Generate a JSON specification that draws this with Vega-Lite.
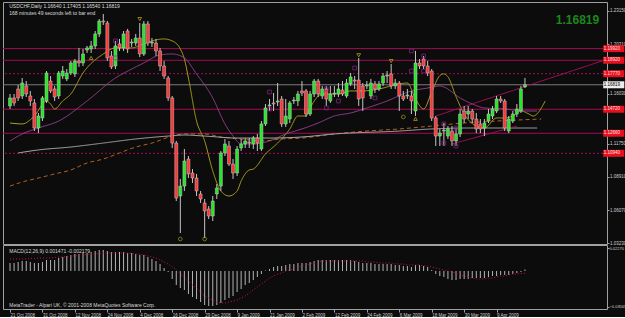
{
"$schema": "https://vega.github.io/schema/vega-lite/v6.json",
"background": "#0c0c0c",
"padding": {"left": 2, "top": 1, "right": 0, "bottom": 0},
"bounds": "flush",
"spacing": 1,
"config": {
  "font": "Liberation Sans, sans-serif",
  "view": {"stroke": "#a0a0a0", "strokeWidth": 1},
  "axis": {"grid": false, "domain": false, "labelColor": "#d0d0d0", "tickColor": "#a0a0a0", "labelFontSize": 4.5, "labelFont": "Liberation Sans", "tickSize": 2, "labelPadding": 0.5, "labelOverlap": false, "titleColor": "#d0d0d0"}
},
"datasets": {
  "c": [
{"i":0,"o":1.1500,"h":1.1603,"l":1.1474,"c":1.1569},
{"i":1,"o":1.1569,"h":1.1603,"l":1.1500,"c":1.1526},
{"i":2,"o":1.1646,"h":1.1680,"l":1.1543,"c":1.1569},
{"i":3,"o":1.1586,"h":1.1740,"l":1.1560,"c":1.1697},
{"i":4,"o":1.1672,"h":1.1714,"l":1.1577,"c":1.1603},
{"i":5,"o":1.1586,"h":1.1629,"l":1.1500,"c":1.1543},
{"i":6,"o":1.1526,"h":1.1560,"l":1.1285,"c":1.1311},
{"i":7,"o":1.1311,"h":1.1440,"l":1.1268,"c":1.1414},
{"i":8,"o":1.1397,"h":1.1586,"l":1.1371,"c":1.1569},
{"i":9,"o":1.1543,"h":1.1800,"l":1.1526,"c":1.1783},
{"i":10,"o":1.1714,"h":1.1757,"l":1.1611,"c":1.1629},
{"i":11,"o":1.1646,"h":1.1672,"l":1.1543,"c":1.1577},
{"i":12,"o":1.1586,"h":1.1800,"l":1.1560,"c":1.1783},
{"i":13,"o":1.1757,"h":1.1843,"l":1.1732,"c":1.1800},
{"i":14,"o":1.1732,"h":1.1817,"l":1.1714,"c":1.1783},
{"i":15,"o":1.1783,"h":1.1886,"l":1.1766,"c":1.1869},
{"i":16,"o":1.1775,"h":1.1903,"l":1.1749,"c":1.1886},
{"i":17,"o":1.1886,"h":1.1998,"l":1.1835,"c":1.1869},
{"i":18,"o":1.1869,"h":1.1989,"l":1.1843,"c":1.1946},
{"i":19,"o":1.1980,"h":1.2015,"l":1.1955,"c":1.1998},
{"i":20,"o":1.1989,"h":1.2058,"l":1.1955,"c":1.2015},
{"i":21,"o":1.2015,"h":1.2143,"l":1.1989,"c":1.2118},
{"i":22,"o":1.2118,"h":1.2246,"l":1.2092,"c":1.2229},
{"i":23,"o":1.2229,"h":1.2289,"l":1.2195,"c":1.2221},
{"i":24,"o":1.2212,"h":1.2229,"l":1.1886,"c":1.1912},
{"i":25,"o":1.1929,"h":1.1972,"l":1.1817,"c":1.1835},
{"i":26,"o":1.1843,"h":1.2058,"l":1.1817,"c":1.2015},
{"i":27,"o":1.2032,"h":1.2075,"l":1.1972,"c":1.1998},
{"i":28,"o":1.1998,"h":1.2143,"l":1.1972,"c":1.2118},
{"i":29,"o":1.2143,"h":1.2161,"l":1.1955,"c":1.1989},
{"i":30,"o":1.2040,"h":1.2075,"l":1.2006,"c":1.2049},
{"i":31,"o":1.2040,"h":1.2118,"l":1.2015,"c":1.2083},
{"i":32,"o":1.2083,"h":1.2212,"l":1.1920,"c":1.1946},
{"i":33,"o":1.1946,"h":1.2229,"l":1.1929,"c":1.2204},
{"i":34,"o":1.2204,"h":1.2229,"l":1.2015,"c":1.2040},
{"i":35,"o":1.2040,"h":1.2083,"l":1.2006,"c":1.2049},
{"i":36,"o":1.2040,"h":1.2075,"l":1.1929,"c":1.1972},
{"i":37,"o":1.1972,"h":1.1998,"l":1.1800,"c":1.1843},
{"i":38,"o":1.1843,"h":1.1886,"l":1.1732,"c":1.1757},
{"i":39,"o":1.1740,"h":1.1757,"l":1.1543,"c":1.1569},
{"i":40,"o":1.1569,"h":1.1586,"l":1.1140,"c":1.1182},
{"i":41,"o":1.1182,"h":1.1200,"l":1.0685,"c":1.0710},
{"i":42,"o":1.0728,"h":1.0874,"l":1.0410,"c":1.0813},
{"i":43,"o":1.0813,"h":1.1131,"l":1.0771,"c":1.1028},
{"i":44,"o":1.1045,"h":1.1071,"l":1.0882,"c":1.0917},
{"i":45,"o":1.0925,"h":1.0959,"l":1.0839,"c":1.0882},
{"i":46,"o":1.0882,"h":1.0917,"l":1.0728,"c":1.0771},
{"i":47,"o":1.0745,"h":1.0771,"l":1.0668,"c":1.0702},
{"i":48,"o":1.0668,"h":1.0702,"l":1.0367,"c":1.0599},
{"i":49,"o":1.0616,"h":1.0642,"l":1.0530,"c":1.0556},
{"i":50,"o":1.0556,"h":1.0728,"l":1.0513,"c":1.0685},
{"i":51,"o":1.0745,"h":1.0831,"l":1.0702,"c":1.0796},
{"i":52,"o":1.0813,"h":1.1114,"l":1.0771,"c":1.1097},
{"i":53,"o":1.1097,"h":1.1217,"l":1.1071,"c":1.1174},
{"i":54,"o":1.1157,"h":1.1200,"l":1.0985,"c":1.1002},
{"i":55,"o":1.1002,"h":1.1045,"l":1.0874,"c":1.0925},
{"i":56,"o":1.0925,"h":1.1157,"l":1.0899,"c":1.1131},
{"i":57,"o":1.1140,"h":1.1217,"l":1.1114,"c":1.1174},
{"i":58,"o":1.1174,"h":1.1225,"l":1.1140,"c":1.1200},
{"i":59,"o":1.1191,"h":1.1225,"l":1.1140,"c":1.1182},
{"i":60,"o":1.1174,"h":1.1242,"l":1.1131,"c":1.1225},
{"i":61,"o":1.1225,"h":1.1260,"l":1.1114,"c":1.1182},
{"i":62,"o":1.1131,"h":1.1371,"l":1.1114,"c":1.1346},
{"i":63,"o":1.1346,"h":1.1517,"l":1.1328,"c":1.1483},
{"i":64,"o":1.1500,"h":1.1560,"l":1.1457,"c":1.1509},
{"i":65,"o":1.1526,"h":1.1611,"l":1.1457,"c":1.1517},
{"i":66,"o":1.1534,"h":1.1697,"l":1.1500,"c":1.1543},
{"i":67,"o":1.1560,"h":1.1586,"l":1.1320,"c":1.1346},
{"i":68,"o":1.1346,"h":1.1560,"l":1.1320,"c":1.1414},
{"i":69,"o":1.1388,"h":1.1543,"l":1.1354,"c":1.1526},
{"i":70,"o":1.1543,"h":1.1577,"l":1.1517,"c":1.1551},
{"i":71,"o":1.1543,"h":1.1629,"l":1.1500,"c":1.1603},
{"i":72,"o":1.1629,"h":1.1714,"l":1.1586,"c":1.1611},
{"i":73,"o":1.1629,"h":1.1646,"l":1.1406,"c":1.1431},
{"i":74,"o":1.1431,"h":1.1629,"l":1.1414,"c":1.1603},
{"i":75,"o":1.1603,"h":1.1732,"l":1.1577,"c":1.1714},
{"i":76,"o":1.1714,"h":1.1732,"l":1.1577,"c":1.1603},
{"i":77,"o":1.1586,"h":1.1672,"l":1.1560,"c":1.1646},
{"i":78,"o":1.1646,"h":1.1672,"l":1.1500,"c":1.1560},
{"i":79,"o":1.1543,"h":1.1672,"l":1.1526,"c":1.1603},
{"i":80,"o":1.1603,"h":1.1672,"l":1.1577,"c":1.1611},
{"i":81,"o":1.1603,"h":1.1697,"l":1.1577,"c":1.1646},
{"i":82,"o":1.1637,"h":1.1714,"l":1.1586,"c":1.1603},
{"i":83,"o":1.1586,"h":1.1732,"l":1.1569,"c":1.1697},
{"i":84,"o":1.1689,"h":1.1783,"l":1.1672,"c":1.1749},
{"i":85,"o":1.1723,"h":1.1757,"l":1.1646,"c":1.1714},
{"i":86,"o":1.1723,"h":1.1912,"l":1.1500,"c":1.1560},
{"i":87,"o":1.1672,"h":1.1697,"l":1.1457,"c":1.1569},
{"i":88,"o":1.1672,"h":1.1714,"l":1.1646,"c":1.1680},
{"i":89,"o":1.1586,"h":1.1732,"l":1.1560,"c":1.1697},
{"i":90,"o":1.1689,"h":1.1714,"l":1.1611,"c":1.1646},
{"i":91,"o":1.1646,"h":1.1714,"l":1.1629,"c":1.1689},
{"i":92,"o":1.1697,"h":1.1783,"l":1.1672,"c":1.1757},
{"i":93,"o":1.1757,"h":1.1800,"l":1.1697,"c":1.1766},
{"i":94,"o":1.1775,"h":1.1860,"l":1.1646,"c":1.1672},
{"i":95,"o":1.1672,"h":1.1732,"l":1.1646,"c":1.1697},
{"i":96,"o":1.1697,"h":1.1714,"l":1.1457,"c":1.1586},
{"i":97,"o":1.1586,"h":1.1629,"l":1.1543,"c":1.1560},
{"i":98,"o":1.1586,"h":1.1646,"l":1.1560,"c":1.1594},
{"i":99,"o":1.1586,"h":1.1629,"l":1.1431,"c":1.1543},
{"i":100,"o":1.1457,"h":1.1972,"l":1.1414,"c":1.1869},
{"i":101,"o":1.1869,"h":1.1903,"l":1.1817,"c":1.1843},
{"i":102,"o":1.1903,"h":1.1929,"l":1.1817,"c":1.1843},
{"i":103,"o":1.1843,"h":1.1886,"l":1.1757,"c":1.1783},
{"i":104,"o":1.1800,"h":1.1817,"l":1.1371,"c":1.1397},
{"i":105,"o":1.1397,"h":1.1414,"l":1.1157,"c":1.1242},
{"i":106,"o":1.1242,"h":1.1303,"l":1.1157,"c":1.1268},
{"i":107,"o":1.1285,"h":1.1354,"l":1.1157,"c":1.1294},
{"i":108,"o":1.1242,"h":1.1328,"l":1.1217,"c":1.1303},
{"i":109,"o":1.1285,"h":1.1328,"l":1.1157,"c":1.1200},
{"i":110,"o":1.1200,"h":1.1303,"l":1.1157,"c":1.1260},
{"i":111,"o":1.1260,"h":1.1474,"l":1.1234,"c":1.1431},
{"i":112,"o":1.1457,"h":1.1500,"l":1.1354,"c":1.1388},
{"i":113,"o":1.1431,"h":1.1500,"l":1.1388,"c":1.1457},
{"i":114,"o":1.1457,"h":1.1474,"l":1.1354,"c":1.1388},
{"i":115,"o":1.1388,"h":1.1440,"l":1.1268,"c":1.1303},
{"i":116,"o":1.1346,"h":1.1388,"l":1.1268,"c":1.1303},
{"i":117,"o":1.1311,"h":1.1388,"l":1.1242,"c":1.1354},
{"i":118,"o":1.1371,"h":1.1474,"l":1.1354,"c":1.1431},
{"i":119,"o":1.1414,"h":1.1500,"l":1.1388,"c":1.1474},
{"i":120,"o":1.1457,"h":1.1586,"l":1.1440,"c":1.1560},
{"i":121,"o":1.1560,"h":1.1586,"l":1.1526,"c":1.1543},
{"i":122,"o":1.1543,"h":1.1560,"l":1.1285,"c":1.1311},
{"i":123,"o":1.1285,"h":1.1414,"l":1.1268,"c":1.1388},
{"i":124,"o":1.1371,"h":1.1457,"l":1.1354,"c":1.1431},
{"i":125,"o":1.1431,"h":1.1517,"l":1.1406,"c":1.1474},
{"i":126,"o":1.1457,"h":1.1672,"l":1.1440,"c":1.1646},
{"i":127,"o":1.1664,"h":1.17405,"l":1.1654,"c":1.16819}
  ],
  "ma": [
{"s":"f","i":0,"v":1.1354},{"s":"f","i":3,"v":1.1346},{"s":"f","i":6,"v":1.1414},{"s":"f","i":9,"v":1.1543},{"s":"f","i":10,"v":1.1517},{"s":"f","i":11,"v":1.1474},{"s":"f","i":13,"v":1.1543},{"s":"f","i":15,"v":1.1603},{"s":"f","i":18,"v":1.1783},{"s":"f","i":23,"v":1.1946},{"s":"f","i":26,"v":1.1998},{"s":"f","i":30,"v":1.1998},{"s":"f","i":33,"v":1.2032},{"s":"f","i":35,"v":1.2058},{"s":"f","i":38,"v":1.2075},{"s":"f","i":40,"v":1.2058},{"s":"f","i":42,"v":1.1989},{"s":"f","i":43,"v":1.1903},{"s":"f","i":44,"v":1.1740},{"s":"f","i":46,"v":1.1371},{"s":"f","i":48,"v":1.1200},{"s":"f","i":50,"v":1.0942},{"s":"f","i":52,"v":1.0771},{"s":"f","i":54,"v":1.0728},{"s":"f","i":56,"v":1.0771},{"s":"f","i":57,"v":1.0856},{"s":"f","i":59,"v":1.0951},{"s":"f","i":60,"v":1.0959},{"s":"f","i":63,"v":1.1088},{"s":"f","i":66,"v":1.1182},{"s":"f","i":69,"v":1.1303},{"s":"f","i":71,"v":1.1414},{"s":"f","i":73,"v":1.1414},{"s":"f","i":74,"v":1.1483},{"s":"f","i":77,"v":1.1603},{"s":"f","i":81,"v":1.1603},{"s":"f","i":84,"v":1.1629},{"s":"f","i":87,"v":1.1629},{"s":"f","i":91,"v":1.1646},{"s":"f","i":96,"v":1.1689},{"s":"f","i":98,"v":1.1697},{"s":"f","i":100,"v":1.1560},{"s":"f","i":102,"v":1.1474},{"s":"f","i":104,"v":1.1620},{"s":"f","i":106,"v":1.1760},{"s":"f","i":107,"v":1.1775},{"s":"f","i":108,"v":1.1750},{"s":"f","i":110,"v":1.1580},{"s":"f","i":112,"v":1.1431},{"s":"f","i":115,"v":1.1328},{"s":"f","i":117,"v":1.1311},{"s":"f","i":120,"v":1.1397},{"s":"f","i":122,"v":1.1397},{"s":"f","i":124,"v":1.1414},{"s":"f","i":126,"v":1.1457},{"s":"f","i":128,"v":1.1431},{"s":"f","i":129,"v":1.1414},{"s":"f","i":132,"v":1.1543},
{"s":"m","i":0,"v":1.1200},{"s":"m","i":3,"v":1.1260},{"s":"m","i":7,"v":1.1311},{"s":"m","i":12,"v":1.1371},{"s":"m","i":19,"v":1.1543},{"s":"m","i":26,"v":1.1740},{"s":"m","i":30,"v":1.1817},{"s":"m","i":33,"v":1.1869},{"s":"m","i":37,"v":1.1938},{"s":"m","i":40,"v":1.1946},{"s":"m","i":43,"v":1.1912},{"s":"m","i":46,"v":1.1775},{"s":"m","i":50,"v":1.1569},{"s":"m","i":53,"v":1.1346},{"s":"m","i":55,"v":1.1242},{"s":"m","i":57,"v":1.1174},{"s":"m","i":60,"v":1.1174},{"s":"m","i":64,"v":1.1200},{"s":"m","i":68,"v":1.1260},{"s":"m","i":72,"v":1.1303},{"s":"m","i":76,"v":1.1354},{"s":"m","i":80,"v":1.1414},{"s":"m","i":84,"v":1.1440},{"s":"m","i":88,"v":1.1483},{"s":"m","i":93,"v":1.1543},{"s":"m","i":99,"v":1.1629},{"s":"m","i":103,"v":1.1654},{"s":"m","i":106,"v":1.1672},{"s":"m","i":107,"v":1.1663},{"s":"m","i":111,"v":1.1569},{"s":"m","i":114,"v":1.1517},{"s":"m","i":117,"v":1.1483},{"s":"m","i":122,"v":1.1474},{"s":"m","i":127,"v":1.1457},{"s":"m","i":130,"v":1.1457},
{"s":"s","i":0,"v":1.0813},{"s":"s","i":3,"v":1.0848},{"s":"s","i":7,"v":1.0882},{"s":"s","i":11,"v":1.0917},{"s":"s","i":15,"v":1.0951},{"s":"s","i":19,"v":1.1011},{"s":"s","i":23,"v":1.1045},{"s":"s","i":27,"v":1.1097},{"s":"s","i":31,"v":1.1148},{"s":"s","i":35,"v":1.1182},{"s":"s","i":40,"v":1.1242},{"s":"s","i":43,"v":1.1260},{"s":"s","i":48,"v":1.1260},{"s":"s","i":52,"v":1.1234},{"s":"s","i":57,"v":1.1217},{"s":"s","i":62,"v":1.1200},{"s":"s","i":67,"v":1.1217},{"s":"s","i":72,"v":1.1225},{"s":"s","i":80,"v":1.1260},{"s":"s","i":88,"v":1.1285},{"s":"s","i":96,"v":1.1303},{"s":"s","i":104,"v":1.1328},{"s":"s","i":112,"v":1.1354},{"s":"s","i":120,"v":1.1371},{"s":"s","i":131,"v":1.1388},
{"s":"g","i":2,"v":1.1097},{"s":"g","i":7,"v":1.1123},{"s":"g","i":15,"v":1.1148},{"s":"g","i":23,"v":1.1182},{"s":"g","i":31,"v":1.1217},{"s":"g","i":39,"v":1.1242},{"s":"g","i":43,"v":1.1251},{"s":"g","i":48,"v":1.1242},{"s":"g","i":56,"v":1.1225},{"s":"g","i":64,"v":1.1225},{"s":"g","i":72,"v":1.1234},{"s":"g","i":80,"v":1.1260},{"s":"g","i":96,"v":1.1285},{"s":"g","i":104,"v":1.1303},{"s":"g","i":113,"v":1.1311},{"s":"g","i":130,"v":1.1311},
{"s":"t1","i":105,"v":1.1414},{"s":"t1","i":146,"v":1.1886},
{"s":"t2","i":109,"v":1.1174},{"s":"t2","i":125,"v":1.1328}
  ],
  "lv": [
{"v":1.1992,"k":"r"},{"v":1.1892,"k":"r"},{"v":1.1777,"k":"d"},{"v":1.16819,"k":"w"},{"v":1.1472,"k":"r"},{"v":1.1266,"k":"r"},{"v":1.1094,"k":"d"}
  ],
  "mk": [
{"i":26,"v":1.2058,"k":"sq"},{"i":26,"v":1.1912,"k":"sq"},{"i":64,"v":1.1620,"k":"sq"},{"i":64,"v":1.1474,"k":"sq"},{"i":78,"v":1.1646,"k":"sq"},{"i":78,"v":1.1483,"k":"sq"},{"i":81,"v":1.1543,"k":"sq"},{"i":85,"v":1.1826,"k":"sq"},{"i":90,"v":1.1569,"k":"sq"},{"i":99,"v":1.1972,"k":"sq"},{"i":102,"v":1.1929,"k":"sq"},{"i":99,"v":1.1800,"k":"sq"},{"i":102,"v":1.1800,"k":"sq"},{"i":107,"v":1.1346,"k":"sq"},{"i":107,"v":1.1182,"k":"sq"},{"i":110,"v":1.1157,"k":"sq"},{"i":110,"v":1.1311,"k":"sq"},
{"i":32,"v":1.2245,"k":"dn"},{"i":86,"v":1.1935,"k":"dn"},{"i":94,"v":1.1885,"k":"dn"},
{"i":20,"v":1.1912,"k":"up"},{"i":100,"v":1.1390,"k":"up"},
{"i":42,"v":1.0359,"k":"o"},{"i":48,"v":1.0359,"k":"o"},{"i":97,"v":1.1406,"k":"o"}
  ],
  "m": [
{"i":0,"h":0.008,"s":0.012},{"i":1,"h":0.008,"s":0.012},{"i":2,"h":0.009,"s":0.012},{"i":3,"h":0.010,"s":0.012},{"i":4,"h":0.010,"s":0.012},{"i":5,"h":0.009,"s":0.0125},{"i":6,"h":0.008,"s":0.0125},{"i":7,"h":0.008,"s":0.013},{"i":8,"h":0.009,"s":0.013},{"i":9,"h":0.011,"s":0.013},
{"i":10,"h":0.011,"s":0.013},{"i":11,"h":0.011,"s":0.0135},{"i":12,"h":0.013,"s":0.014},{"i":13,"h":0.014,"s":0.014},{"i":14,"h":0.015,"s":0.0145},{"i":15,"h":0.016,"s":0.015},{"i":16,"h":0.017,"s":0.015},{"i":17,"h":0.017,"s":0.0155},{"i":18,"h":0.018,"s":0.016},{"i":19,"h":0.018,"s":0.0165},
{"i":20,"h":0.019,"s":0.017},{"i":21,"h":0.020,"s":0.017},{"i":22,"h":0.021,"s":0.0175},{"i":23,"h":0.021,"s":0.018},{"i":24,"h":0.020,"s":0.018},{"i":25,"h":0.019,"s":0.018},{"i":26,"h":0.019,"s":0.018},{"i":27,"h":0.019,"s":0.018},{"i":28,"h":0.019,"s":0.018},{"i":29,"h":0.018,"s":0.018},
{"i":30,"h":0.018,"s":0.0175},{"i":31,"h":0.017,"s":0.017},{"i":32,"h":0.016,"s":0.017},{"i":33,"h":0.016,"s":0.016},{"i":34,"h":0.014,"s":0.015},{"i":35,"h":0.012,"s":0.014},{"i":36,"h":0.010,"s":0.013},{"i":37,"h":0.007,"s":0.011},{"i":38,"h":0.003,"s":0.009},{"i":39,"h":-0.001,"s":0.007},
{"i":40,"h":-0.008,"s":0.004},{"i":41,"h":-0.014,"s":0.001},{"i":42,"h":-0.017,"s":-0.003},{"i":43,"h":-0.019,"s":-0.006},{"i":44,"h":-0.023,"s":-0.010},{"i":45,"h":-0.026,"s":-0.014},{"i":46,"h":-0.028,"s":-0.017},{"i":47,"h":-0.031,"s":-0.021},{"i":48,"h":-0.034,"s":-0.025},{"i":49,"h":-0.035,"s":-0.027},
{"i":50,"h":-0.035,"s":-0.029},{"i":51,"h":-0.034,"s":-0.031},{"i":52,"h":-0.032,"s":-0.032},{"i":53,"h":-0.029,"s":-0.032},{"i":54,"h":-0.027,"s":-0.031},{"i":55,"h":-0.025,"s":-0.030},{"i":56,"h":-0.021,"s":-0.029},{"i":57,"h":-0.018,"s":-0.027},{"i":58,"h":-0.014,"s":-0.025},{"i":59,"h":-0.012,"s":-0.022},
{"i":60,"h":-0.009,"s":-0.019},{"i":61,"h":-0.006,"s":-0.016},{"i":62,"h":-0.003,"s":-0.013},{"i":63,"h":0.0005,"s":-0.010},{"i":64,"h":0.002,"s":-0.007},{"i":65,"h":0.004,"s":-0.005},{"i":66,"h":0.005,"s":-0.003},{"i":67,"h":0.005,"s":-0.002},{"i":68,"h":0.006,"s":0.0},{"i":69,"h":0.007,"s":0.001},
{"i":70,"h":0.007,"s":0.002},{"i":71,"h":0.008,"s":0.003},{"i":72,"h":0.008,"s":0.005},{"i":73,"h":0.008,"s":0.006},{"i":74,"h":0.009,"s":0.007},{"i":75,"h":0.010,"s":0.008},{"i":76,"h":0.011,"s":0.009},{"i":77,"h":0.011,"s":0.010},{"i":78,"h":0.011,"s":0.010},{"i":79,"h":0.011,"s":0.010},
{"i":80,"h":0.011,"s":0.010},{"i":81,"h":0.011,"s":0.010},{"i":82,"h":0.011,"s":0.010},{"i":83,"h":0.011,"s":0.010},{"i":84,"h":0.011,"s":0.010},{"i":85,"h":0.010,"s":0.010},{"i":86,"h":0.009,"s":0.010},{"i":87,"h":0.008,"s":0.010},{"i":88,"h":0.008,"s":0.009},{"i":89,"h":0.008,"s":0.009},
{"i":90,"h":0.007,"s":0.009},{"i":91,"h":0.007,"s":0.008},{"i":92,"h":0.007,"s":0.008},{"i":93,"h":0.007,"s":0.008},{"i":94,"h":0.007,"s":0.008},{"i":95,"h":0.006,"s":0.007},{"i":96,"h":0.006,"s":0.007},{"i":97,"h":0.005,"s":0.007},{"i":98,"h":0.005,"s":0.006},{"i":99,"h":0.004,"s":0.006},
{"i":100,"h":0.006,"s":0.006},{"i":101,"h":0.006,"s":0.006},{"i":102,"h":0.005,"s":0.005},{"i":103,"h":0.004,"s":0.005},{"i":104,"h":0.001,"s":0.004},{"i":105,"h":-0.003,"s":0.003},{"i":106,"h":-0.005,"s":0.002},{"i":107,"h":-0.006,"s":0.001},{"i":108,"h":-0.008,"s":0.0},{"i":109,"h":-0.009,"s":-0.001},
{"i":110,"h":-0.009,"s":-0.002},{"i":111,"h":-0.008,"s":-0.004},{"i":112,"h":-0.008,"s":-0.005},{"i":113,"h":-0.008,"s":-0.006},{"i":114,"h":-0.007,"s":-0.007},{"i":115,"h":-0.007,"s":-0.008},{"i":116,"h":-0.007,"s":-0.008},{"i":117,"h":-0.007,"s":-0.008},{"i":118,"h":-0.006,"s":-0.007},{"i":119,"h":-0.005,"s":-0.007},
{"i":120,"h":-0.005,"s":-0.006},{"i":121,"h":-0.004,"s":-0.005},{"i":122,"h":-0.004,"s":-0.005},{"i":123,"h":-0.004,"s":-0.004},{"i":124,"h":-0.003,"s":-0.003},{"i":125,"h":-0.002,"s":-0.003},{"i":126,"h":-0.001,"s":-0.0025},{"i":127,"h":0.001471,"s":-0.002179}
  ]
},
"vconcat": [
{
  "width": 604, "height": 242,
  "layer": [
    {
      "data": {"name": "lv"},
      "mark": {"type": "rule", "strokeWidth": 1},
      "encoding": {
        "y": {"field": "v", "type": "quantitative", "title": null,
              "scale": {"domain": [1.0316, 1.2392], "nice": false, "zero": false},
              "axis": {"orient": "right", "values": [1.2315,1.2171,1.2031,1.1747,1.1603,1.1319,1.1175,1.1035,1.0891,1.0747,1.0607,1.0463,1.0323], "format": ".5f", "labelOverlap": false, "title": null}},
        "color": {"condition": {"test": "datum.k == 'w'", "value": "#7c7c7c"}, "value": "#a30d55"},
        "strokeDash": {"condition": {"test": "datum.k == 'd'", "value": [2, 2]}, "value": [1, 0]}
      }
    },
    {
      "data": {"name": "ma"},
      "mark": {"type": "line", "strokeWidth": 1, "interpolate": "monotone"},
      "encoding": {
        "x": {"field": "i", "type": "quantitative", "scale": {"domain": [-0.5, 146], "nice": false, "zero": false}, "axis": null},
        "y": {"field": "v", "type": "quantitative", "title": null},
        "color": {"field": "s", "type": "nominal", "legend": null,
                  "scale": {"domain": ["f","m","s","g","t1","t2"], "range": ["#aca21c","#94408f","#b4601e","#aaaaaa","#a8115a","#a8115a"]}},
        "strokeDash": {"field": "s", "type": "nominal", "legend": null,
                  "scale": {"domain": ["f","m","s","g","t1","t2"], "range": [[1,0],[1,0],[4,3],[1,0],[1,0],[1,0]]}}
      }
    },
    {
      "data": {"name": "c"},
      "mark": {"type": "rule", "strokeWidth": 1, "color": "#c4c4c4"},
      "encoding": {
        "x": {"field": "i", "type": "quantitative", "axis": null},
        "y": {"field": "l", "type": "quantitative", "title": null},
        "y2": {"field": "h"}
      }
    },
    {
      "data": {"name": "c"},
      "mark": {"type": "bar", "width": 3, "orient": "vertical", "stroke": "#c8c8c8", "strokeWidth": 0.5},
      "encoding": {
        "x": {"field": "i", "type": "quantitative", "axis": null},
        "y": {"field": "o", "type": "quantitative", "title": null},
        "y2": {"field": "c"},
        "color": {"condition": {"test": "datum.c >= datum.o", "value": "#24e824"}, "value": "#ff3636"}
      }
    },
    {
      "data": {"name": "mk"},
      "mark": {"type": "point", "filled": false, "size": 14, "strokeWidth": 1},
      "encoding": {
        "x": {"field": "i", "type": "quantitative", "axis": null},
        "y": {"field": "v", "type": "quantitative", "title": null},
        "shape": {"field": "k", "type": "nominal", "legend": null, "scale": {"domain": ["sq","dn","up","o"], "range": ["square","triangle-down","triangle-up","circle"]}},
        "stroke": {"field": "k", "type": "nominal", "legend": null, "scale": {"domain": ["sq","dn","up","o"], "range": ["#8e2a8e","#c8b41e","#c8b41e","#a8a020"]}}
      }
    },
    {
      "data": {"name": "lv"},
      "mark": {"type": "rule", "strokeWidth": 7, "strokeCap": "butt"},
      "encoding": {
        "x": {"datum": 146.3, "type": "quantitative", "axis": null},
        "x2": {"datum": 151.5},
        "y": {"field": "v", "type": "quantitative", "title": null},
        "color": {"condition": {"test": "datum.k == 'w'", "value": "#ececec"}, "value": "#e8101e"}
      }
    },
    {
      "data": {"name": "lv"},
      "mark": {"type": "text", "align": "left", "baseline": "middle", "fontSize": 4.5},
      "encoding": {
        "x": {"datum": 146.45, "type": "quantitative", "axis": null},
        "y": {"field": "v", "type": "quantitative", "title": null},
        "text": {"field": "v", "type": "quantitative", "format": ".5f"},
        "color": {"condition": {"test": "datum.k == 'w'", "value": "#000000"}, "value": "#ffe0e0"}
      }
    },
    {
      "data": {"values": [{}]},
      "mark": {"type": "text", "align": "left", "baseline": "middle", "fontSize": 5, "color": "#dedede", "text": "USDCHF,Daily  1.16640 1.17405 1.16540 1.16819"},
      "encoding": {"x": {"datum": -0.2, "type": "quantitative", "axis": null}, "y": {"datum": 1.2358, "type": "quantitative"}}
    },
    {
      "data": {"values": [{}]},
      "mark": {"type": "text", "align": "left", "baseline": "middle", "fontSize": 5, "color": "#dedede", "text": "168 minutes 49 seconds left to bar end"},
      "encoding": {"x": {"datum": -0.2, "type": "quantitative", "axis": null}, "y": {"datum": 1.2300, "type": "quantitative"}}
    },
    {
      "data": {"values": [{}]},
      "mark": {"type": "text", "align": "right", "baseline": "middle", "fontSize": 12, "fontWeight": "bold", "color": "#1e861e", "text": "1.16819"},
      "encoding": {"x": {"datum": 145.3, "type": "quantitative", "axis": null}, "y": {"datum": 1.2238, "type": "quantitative"}}
    }
  ]
},
{
  "width": 604, "height": 64,
  "layer": [
    {
      "data": {"name": "m"},
      "mark": {"type": "bar", "width": 1, "orient": "vertical", "color": "#b4b4b4"},
      "encoding": {
        "x": {"field": "i", "type": "quantitative", "title": null,
              "scale": {"domain": [-0.5, 146], "nice": false, "zero": false},
              "axis": {"values": [0,8,16,24,32,40,48,56,64,72,80,88,96,104,112,120], "labelAlign": "left", "tickSize": 3, "labelPadding": 0, "labelOverlap": false, "labelFlush": false, "labelBound": false,
                       "labelExpr": "['21 Oct 2008','31 Oct 2008','12 Nov 2008','24 Nov 2008','4 Dec 2008','16 Dec 2008','29 Dec 2008','9 Jan 2009','21 Jan 2009','2 Feb 2009','12 Feb 2009','24 Feb 2009','6 Mar 2009','18 Mar 2009','30 Mar 2009','9 Apr 2009'][round(datum.value/8)]", "title": null}},
        "y": {"field": "h", "type": "quantitative", "title": null,
              "scale": {"domain": [-0.038, 0.026], "nice": false, "zero": false},
              "axis": {"orient": "right", "values": [0.0227, 0, -0.03565], "labelFontSize": 4, "labelPadding": 0, "labelExpr": "datum.value == 0 ? '0.00' : format(datum.value, '.5f')", "labelOverlap": false, "title": null}},
        "y2": {"datum": 0}
      }
    },
    {
      "data": {"name": "m"},
      "mark": {"type": "line", "strokeWidth": 1, "color": "#d0103a", "strokeDash": [1, 2]},
      "encoding": {
        "x": {"field": "i", "type": "quantitative", "title": null},
        "y": {"field": "s", "type": "quantitative", "title": null}
      }
    },
    {
      "data": {"values": [{}]},
      "mark": {"type": "text", "align": "left", "baseline": "middle", "fontSize": 5, "color": "#d8d8d8", "text": "MACD(12,26,9) 0.001471 -0.002179"},
      "encoding": {"x": {"datum": -0.2, "type": "quantitative"}, "y": {"datum": 0.0205, "type": "quantitative"}}
    },
    {
      "data": {"values": [{}]},
      "mark": {"type": "text", "align": "left", "baseline": "middle", "fontSize": 5, "color": "#d8d8d8", "text": "MetaTrader - Alpari UK, © 2001-2008 MetaQuotes Software Corp."},
      "encoding": {"x": {"datum": -0.2, "type": "quantitative"}, "y": {"datum": -0.0335, "type": "quantitative"}}
    }
  ]
}
]
}
